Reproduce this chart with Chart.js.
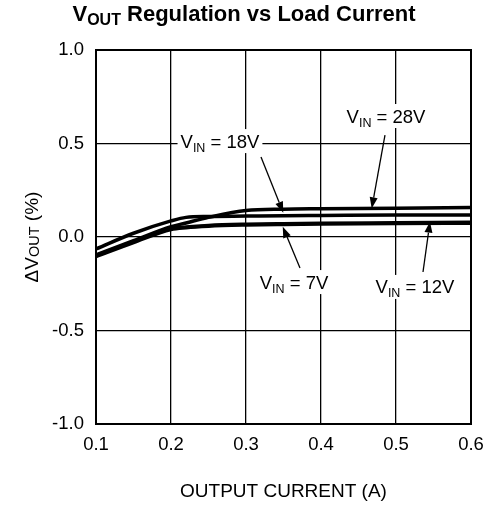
<!DOCTYPE html>
<html>
<head>
<meta charset="utf-8">
<script src="https://cdn.jsdelivr.net/npm/chart.js@4.4.1/dist/chart.umd.min.js"></script>
<style>
  html, body { margin: 0; padding: 0; background: #fff; }
  #wrap { width: 487px; height: 505px; }
</style>
</head>
<body>
<div id="wrap"><canvas id="regChart" width="487" height="505"></canvas></div>
<script>
const currents = [0.1, 0.15, 0.2, 0.22, 0.25, 0.3, 0.35, 0.4, 0.5, 0.6];

// Delta VOUT (%) for each input voltage
const vin7 = [-0.105, -0.03, 0.04, 0.05, 0.058, 0.064, 0.067, 0.069, 0.072, 0.074];
const vin12 = [-0.1, -0.025, 0.045, 0.054, 0.062, 0.068, 0.071, 0.073, 0.076, 0.079];
const vin18 = [-0.064, 0.02, 0.086, 0.105, 0.11, 0.112, 0.114, 0.115, 0.117, 0.118];
const vin28 = [-0.095, -0.02, 0.055, 0.075, 0.105, 0.142, 0.149, 0.151, 0.154, 0.158];

const seriesNames = ["7V", "12V", "18V", "28V"];
const seriesValues = [vin7, vin12, vin18, vin28];

// Tick labels
const xTicks = [0.1, 0.2, 0.3, 0.4, 0.5, 0.6];
const yTicks = [-1.0, -0.5, 0.0, 0.5, 1.0];

const FONT = "'Liberation Sans', Arial, Helvetica, sans-serif";

// Callout labels with their arrows, in data units
const callouts = [
  { name: "18V", at: [0.2653, 0.513], from: [0.32, 0.428], to: [0.3497, 0.13] },
  { name: "28V", at: [0.4867, 0.647], from: [0.4853, 0.545], to: [0.4676, 0.153] },
  { name: "7V", at: [0.364, -0.241], from: [0.372, -0.166], to: [0.349, 0.055] },
  { name: "12V", at: [0.5253, -0.267], from: [0.536, -0.187], to: [0.5453, 0.082] }
];

// Draws pieces of text with their own size and baseline shift
function drawRuns(ctx, runs, x, baseline, align) {
  let total = 0;
  runs.forEach(r => {
    ctx.font = (r.bold ? "bold " : "") + r.size + "px " + FONT;
    r.w = ctx.measureText(r.text).width;
    total += r.w;
  });
  let cur = align === "center" ? x - total / 2 : x;
  ctx.textAlign = "left";
  ctx.textBaseline = "alphabetic";
  runs.forEach(r => {
    ctx.font = (r.bold ? "bold " : "") + r.size + "px " + FONT;
    ctx.fillText(r.text, cur, baseline + (r.dy || 0));
    cur += r.w;
  });
  return total;
}

function measureRuns(ctx, runs) {
  let total = 0;
  runs.forEach(r => {
    ctx.font = (r.bold ? "bold " : "") + r.size + "px " + FONT;
    total += ctx.measureText(r.text).width;
  });
  return total;
}

function drawArrow(ctx, x1, y1, x2, y2) {
  const ang = Math.atan2(y2 - y1, x2 - x1);
  const len = 11;
  const half = 4;
  const bx = x2 - len * Math.cos(ang);
  const by = y2 - len * Math.sin(ang);

  ctx.beginPath();
  ctx.moveTo(x1, y1);
  ctx.lineTo(bx, by);
  ctx.lineWidth = 1.3;
  ctx.stroke();

  ctx.beginPath();
  ctx.moveTo(x2, y2);
  ctx.lineTo(bx + half * Math.sin(ang), by - half * Math.cos(ang));
  ctx.lineTo(bx - half * Math.sin(ang), by + half * Math.cos(ang));
  ctx.closePath();
  ctx.fill();
}

// Titles, frame and callouts drawn on top of the chart
const decorPlugin = {
  id: "decor",
  afterDatasetsDraw(chart) {
    const ctx = chart.ctx;
    const area = chart.chartArea;
    const xs = chart.scales.x;
    const ys = chart.scales.y;

    ctx.save();
    ctx.fillStyle = "#000";
    ctx.strokeStyle = "#000";

    // plot frame
    ctx.lineWidth = 2;
    ctx.strokeRect(area.left, area.top, area.right - area.left, area.bottom - area.top);

    // main title
    drawRuns(ctx, [
      { text: "V", size: 22, bold: true },
      { text: "OUT", size: 16, bold: true, dy: 4 },
      { text: " Regulation vs Load Current", size: 22, bold: true }
    ], 244, 21, "center");

    // y axis title
    ctx.save();
    ctx.translate(38, (area.top + area.bottom) / 2);
    ctx.rotate(-Math.PI / 2);
    drawRuns(ctx, [
      { text: "\u0394V", size: 19 },
      { text: "OUT", size: 14.5, dy: 1 },
      { text: " (%)", size: 19 }
    ], 0, 0, "center");
    ctx.restore();

    // x axis title
    drawRuns(ctx, [{ text: "OUTPUT CURRENT (A)", size: 19 }],
      (area.left + area.right) / 2, 497, "center");

    // callouts
    callouts.forEach(c => {
      const runs = [
        { text: "V", size: 18.5 },
        { text: "IN", size: 12.5, dy: 4 },
        { text: " = " + c.name, size: 18.5 }
      ];
      const cx = xs.getPixelForValue(c.at[0]);
      const cy = ys.getPixelForValue(c.at[1]);
      const w = measureRuns(ctx, runs);
      ctx.fillStyle = "#fff";
      ctx.fillRect(cx - w / 2 - 3, cy - 12, w + 6, 24);
      ctx.fillStyle = "#000";
      drawRuns(ctx, runs, cx, cy + 6.5, "center");

      drawArrow(ctx,
        xs.getPixelForValue(c.from[0]), ys.getPixelForValue(c.from[1]),
        xs.getPixelForValue(c.to[0]), ys.getPixelForValue(c.to[1]));
    });

    ctx.restore();
  }
};

const datasets = seriesValues.map((vals, i) => ({
  label: "VIN = " + seriesNames[i],
  data: currents.map((c, j) => ({ x: c, y: vals[j] })),
  borderColor: "#000",
  borderWidth: 3.5,
  pointRadius: 0,
  fill: false,
  cubicInterpolationMode: "monotone"
}));

new Chart(document.getElementById("regChart"), {
  type: "line",
  data: { datasets },
  options: {
    responsive: false,
    animation: false,
    layout: { padding: { top: 50, right: 16, left: 0, bottom: 0 } },
    plugins: {
      legend: { display: false },
      title: { display: false },
      tooltip: { enabled: false }
    },
    scales: {
      x: {
        type: "linear",
        min: 0.1,
        max: 0.6,
        afterBuildTicks: s => { s.ticks = xTicks.map(v => ({ value: v })); },
        afterFit: s => { s.height = 81; s.paddingLeft = 0; s.paddingRight = 0; },
        grid: { color: "#000", lineWidth: 1.3, drawTicks: false },
        border: { color: "#000", width: 2 },
        ticks: {
          color: "#000",
          padding: 10,
          maxRotation: 0,
          font: { family: FONT, size: 18.5 },
          callback: v => v.toFixed(1)
        }
      },
      y: {
        type: "linear",
        min: -1,
        max: 1,
        afterBuildTicks: s => { s.ticks = yTicks.map(v => ({ value: v })); },
        afterFit: s => { s.width = 96; s.paddingTop = 0; s.paddingBottom = 0; },
        grid: { color: "#000", lineWidth: 1.3, drawTicks: false },
        border: { color: "#000", width: 2 },
        ticks: {
          color: "#000",
          padding: 12,
          font: { family: FONT, size: 18.5 },
          callback: v => v.toFixed(1)
        }
      }
    }
  },
  plugins: [decorPlugin]
});
</script>
</body>
</html>
